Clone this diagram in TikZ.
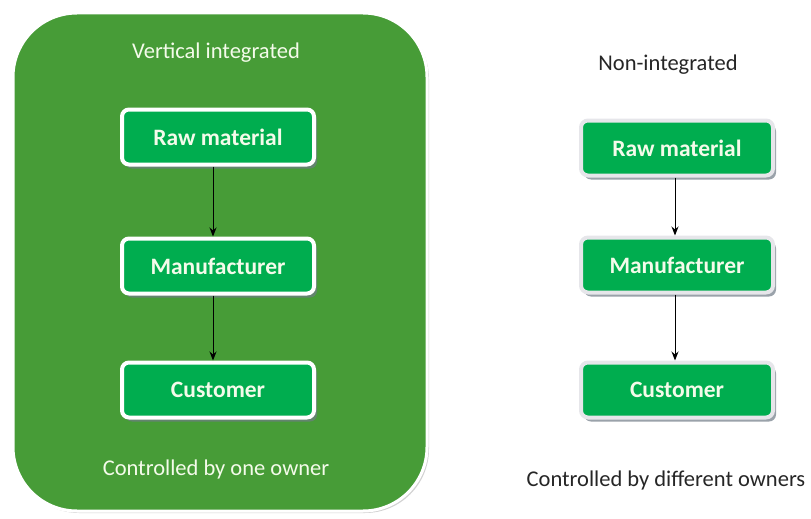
\documentclass[tikz,border=0pt]{standalone}
\usepackage{fontspec}
\setmainfont{Carlito}
\usetikzlibrary{shadows,arrows.meta}
\definecolor{panelgreen}{HTML}{479C37}
\definecolor{boxgreen}{HTML}{00AD4F}
\definecolor{boxtext}{HTML}{F4FBEA}
\definecolor{rimgray}{HTML}{E6E6EA}
\definecolor{shadowgray}{HTML}{6F7A86}
\tikzset{
  x=1pt, y=-1pt,
  panel/.style={draw=white, line width=3pt, fill=panelgreen, rounded corners=64pt,
    drop shadow={shadow xshift=2pt, shadow yshift=-2pt, fill=gray!60, opacity=0.6}},
  stagebox/.style={draw=#1, line width=4pt, fill=boxgreen, rounded corners=7pt,
    minimum width=192pt, minimum height=55pt, inner sep=0pt,
    text=boxtext, font=\fontsize{23.5}{28}\selectfont\bfseries,
    drop shadow={shadow xshift=3pt, shadow yshift=-4pt, fill=shadowgray, opacity=0.7}},
  stagebox/.default=white,
  caption/.style={font=\fontsize{22.5}{26}\selectfont, inner sep=0pt},
  flow/.style={draw=black, line width=1pt, -{Stealth[length=9pt,width=7pt]}}
}
\begin{document}
\begin{tikzpicture}
\useasboundingbox (0,0) rectangle (811,519);

% integrated chain inside one owner's panel
\node[panel, minimum width=414pt, minimum height=498pt] (owner) at (220,262) {};
\node[caption, text=boxtext] (vtitle) at (216,53) {Vertical integrated};
\node[stagebox] (lraw) at (218,137) {Raw material};
\node[stagebox] (lman) at (218,266) {Manufacturer};
\node[stagebox] (lcus) at (218,390) {Customer};
\node[caption, text=boxtext] (vfoot) at (216,469) {Controlled by one owner};
\draw[flow] (lraw.south -| 213,0) -- (lman.north -| 213,0);
\draw[flow] (lman.south -| 213,0) -- (lcus.north -| 213,0);

% separate chain, each stage with its own owner
\node[caption, text=black!85] (ntitle) at (668,65) {Non-integrated};
\node[stagebox=rimgray] (rraw) at (677,148) {Raw material};
\node[stagebox=rimgray] (rman) at (677,265) {Manufacturer};
\node[stagebox=rimgray] (rcus) at (677,390) {Customer};
\node[caption, text=black!85] (nfoot) at (666,480) {Controlled by different owners};
\draw[flow] (rraw.south -| 675,0) -- (rman.north -| 675,0);
\draw[flow] (rman.south -| 675,0) -- (rcus.north -| 675,0);
\end{tikzpicture}
\end{document}
